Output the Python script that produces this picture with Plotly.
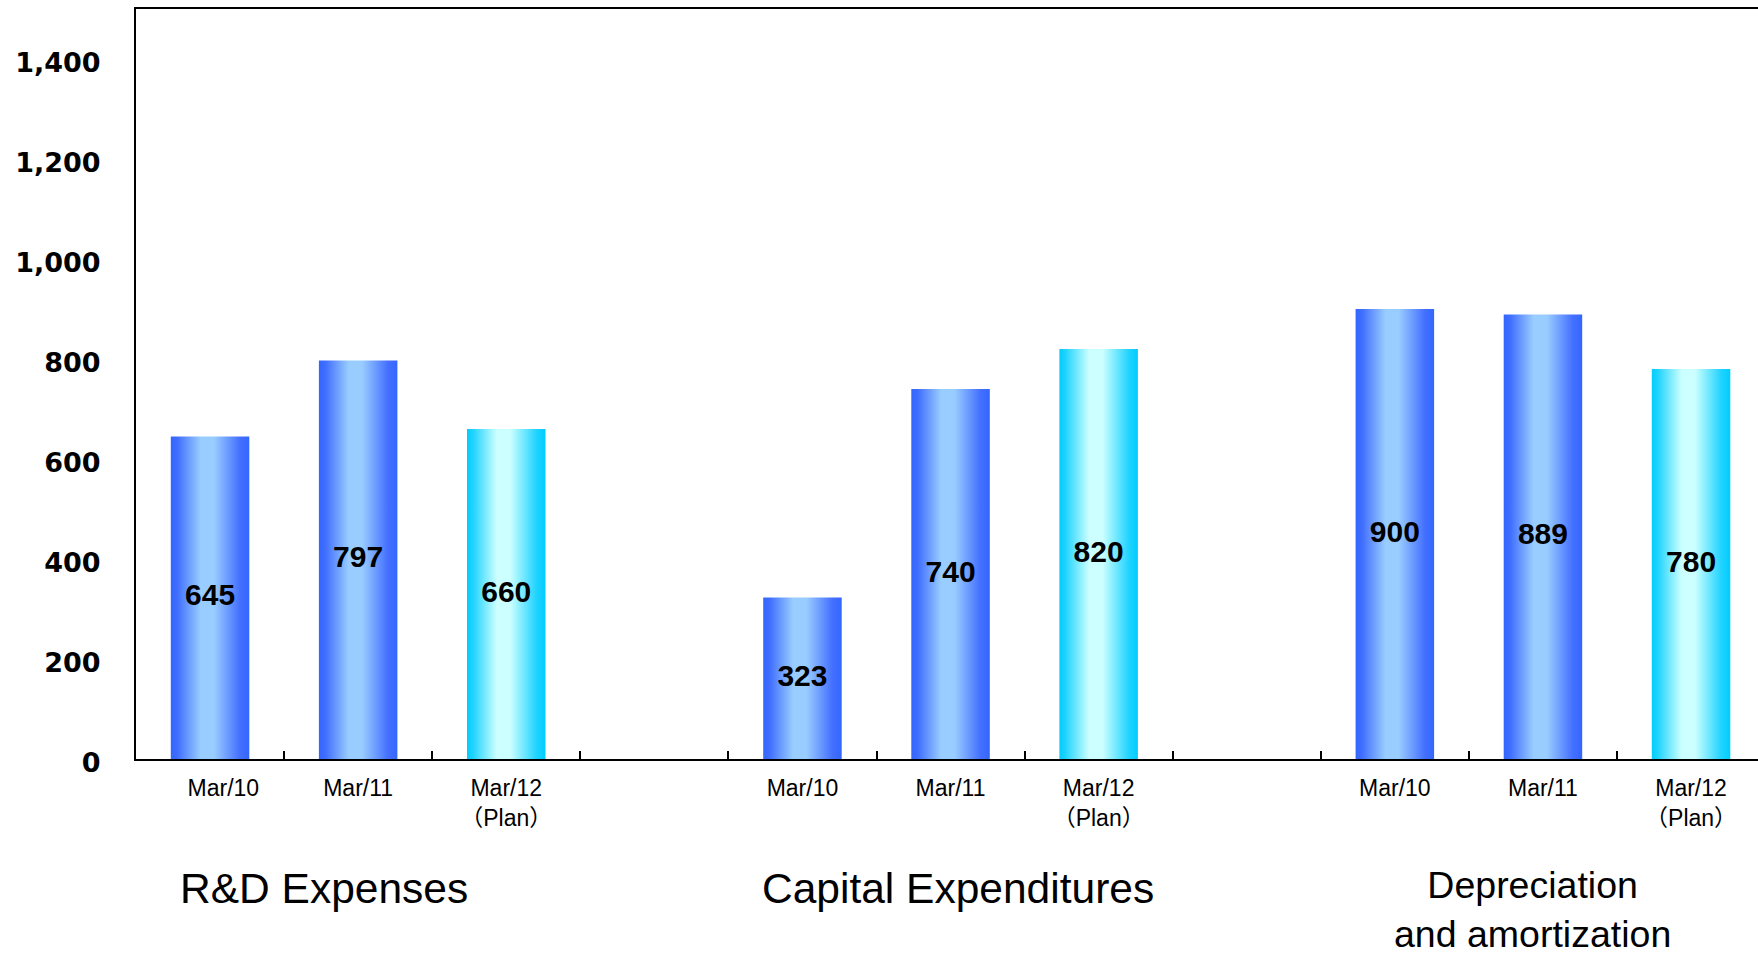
import plotly.graph_objects as go

# ---- data -------------------------------------------------------------
groups = ["R&D Expenses", "Capital Expenditures", "Depreciation<br>and amortization"]
periods = ["Mar/10", "Mar/11", "Mar/12<br>（Plan）"]
rd_expenses = [645, 797, 660]
capital_expenditures = [323, 740, 820]
depreciation = [900, 889, 780]
series = [rd_expenses, capital_expenditures, depreciation]
y_ticks = [0, 200, 400, 600, 800, 1000, 1200, 1400]

# ---- layout constants -------------------------------------------------
W, H = 1758, 954
LEFT, TOP, BOTTOM = 136, 9, 195
SLOT_PX = 148.1                 # pixel width of one category slot
SLOTS_PER_GROUP = 4             # three periods + one empty gap slot
BAR_WIDTH = 0.53                # in slot units
n_slots = len(groups) * SLOTS_PER_GROUP - 1
x_max = -0.5 + (W - LEFT) / SLOT_PX   # the frame runs on past the right edge

TEXT_FONT = "Liberation Sans, Arial, Noto Sans CJK JP, sans-serif"

blue_scale = [[0.0, "#3366FF"], [0.08, "#3F6DFF"], [0.38, "#99CCFF"],
              [0.55, "#99CCFF"], [0.88, "#4470FF"], [1.0, "#3366FF"]]
cyan_scale = [[0.0, "#00CCFF"], [0.08, "#22D4FF"], [0.38, "#CCFFFF"],
              [0.55, "#CCFFFF"], [0.88, "#22D4FF"], [1.0, "#00CCFF"]]
period_scales = [blue_scale, blue_scale, cyan_scale]

fig = go.Figure()

bar_x, bar_v = [], []
for g, values in enumerate(series):
    for p, v in enumerate(values):
        x0 = g * SLOTS_PER_GROUP + p
        bar_x.append(x0)
        bar_v.append(v)
        half = BAR_WIDTH / 2
        # each bar is a filled rectangle so it can carry a horizontal gradient
        fig.add_trace(go.Scatter(
            x=[x0 - half, x0 + half, x0 + half, x0 - half, x0 - half],
            y=[0, 0, v, v, 0],
            mode="lines",
            fill="toself",
            fillgradient=dict(type="horizontal", colorscale=period_scales[p]),
            line=dict(width=0, color="rgba(0,0,0,0)"),
            hoverinfo="skip",
            showlegend=False,
            xaxis="x", yaxis="y",
        ))

# value labels centred inside each bar (on the label axis so it is drawn)
fig.add_trace(go.Scatter(
    x=bar_x,
    y=[v / 2 for v in bar_v],
    mode="text",
    text=[str(v) for v in bar_v],
    textposition="middle center",
    textfont=dict(family=TEXT_FONT, size=30, color="black", weight="bold"),
    hovertemplate="%{text}<extra></extra>",
    showlegend=False,
    xaxis="x2", yaxis="y",
))

# period labels under each bar (first one sits a little right of its bar)
label_x = list(bar_x)
label_x[0] += 0.09
label_text = [periods[i % len(periods)] for i in range(len(bar_x))]

fig.update_layout(
    width=W, height=H,
    margin=dict(l=LEFT, r=0, t=TOP, b=BOTTOM, pad=0),
    paper_bgcolor="white",
    plot_bgcolor="white",
    showlegend=False,
    xaxis=dict(
        range=[-0.5, x_max],
        tickvals=[k + 0.5 for k in range(n_slots - 1)],
        ticks="inside", ticklen=8, tickwidth=2, tickcolor="black",
        showticklabels=False,
        showline=True, linewidth=2, linecolor="black", mirror=True,
        showgrid=False, zeroline=False, fixedrange=True,
    ),
    xaxis2=dict(
        overlaying="x", anchor="y", side="bottom",
        range=[-0.5, x_max],
        tickvals=label_x, ticktext=label_text,
        ticks="", showline=False, showgrid=False, zeroline=False,
        tickfont=dict(family=TEXT_FONT, size=23, color="black"),
        ticklabelstandoff=13, fixedrange=True,
    ),
    yaxis=dict(
        range=[0, 1500],
        tickvals=y_ticks, tickformat=",",
        ticks="", ticklabelstandoff=28, ticklabelshift=4,
        tickfont=dict(family="DejaVu Sans", size=27, color="black", weight="bold"),
        showline=True, linewidth=2, linecolor="black",
        showgrid=False, zeroline=False, fixedrange=True,
    ),
)

# group titles under the period labels
title_x = [0.77, 5.05, 8.93]
title_size = [42.5, 42.5, 37.5]
title_y = [-0.172, -0.172, -0.2]
for name, x, size, y in zip(groups, title_x, title_size, title_y):
    fig.add_annotation(
        x=x, y=y, xref="x", yref="paper",
        text=name, showarrow=False,
        xanchor="center", yanchor="middle", align="center",
        font=dict(family=TEXT_FONT, size=size, color="black"),
    )

fig.write_html("out.html")
